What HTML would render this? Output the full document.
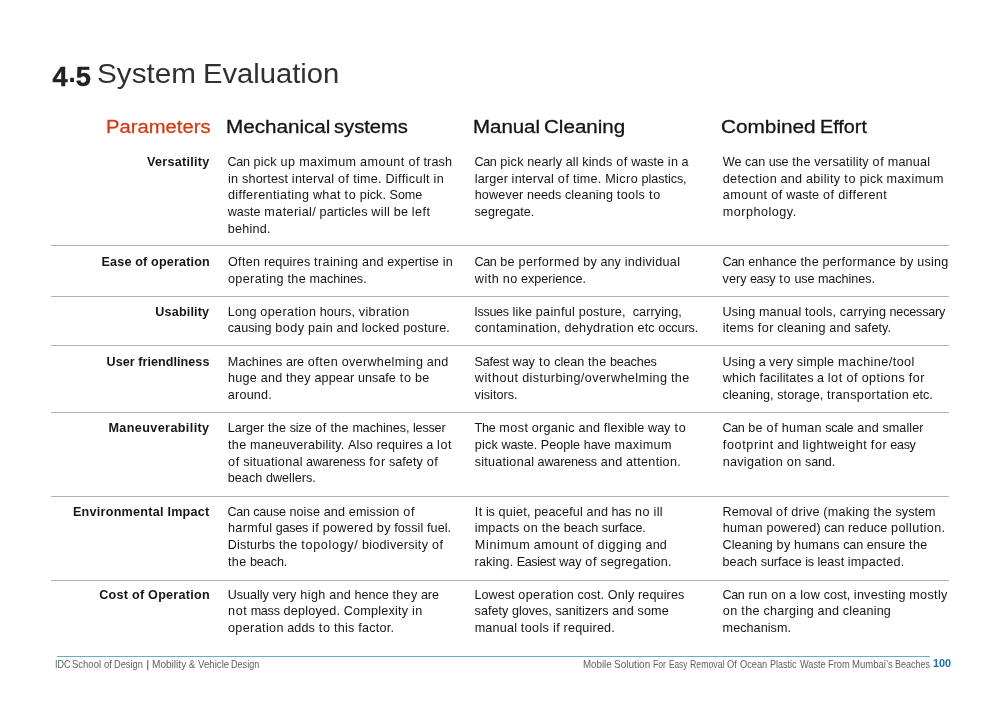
<!DOCTYPE html>
<html><head><meta charset="utf-8"><title>4.5 System Evaluation</title>
<style>
html,body{margin:0;padding:0;background:#fff;}
body{width:1000px;height:707px;position:relative;overflow:hidden;font-family:"Liberation Sans",sans-serif;color:#222;}
#pg{position:absolute;left:0;top:0;width:1000px;height:707px;background:#fff;will-change:transform;}
.t{position:absolute;white-space:pre;line-height:1;transform-origin:0 0;}
.b{color:#151515;font-size:12.60px;}
.l{font-weight:bold;color:#161616;font-size:12.60px;}
.h{color:#141414;font-size:18.70px;-webkit-text-stroke:0.3px currentColor;}
.tt{color:#222;}
.hr{position:absolute;left:50.8px;width:898.7px;height:1.15px;background:#b0b0b0;}
.f{color:#606060;font-size:10.30px;}
</style></head><body><div id="pg">

<div class="hr" style="top:245.00px"></div>
<div class="hr" style="top:296.00px"></div>
<div class="hr" style="top:345.30px"></div>
<div class="hr" style="top:412.00px"></div>
<div class="hr" style="top:496.25px"></div>
<div class="hr" style="top:580.00px"></div>
<div class="t l" style="left:147.01px;top:156.03px;letter-spacing:0.263px;">Versatility</div>
<div class="t b" style="left:227.58px;top:156.03px;letter-spacing:-0.337px;">Can</div>
<div class="t b" style="left:253.54px;top:156.03px;letter-spacing:0.235px;">pick</div>
<div class="t b" style="left:280.60px;top:156.03px;letter-spacing:0.518px;">up</div>
<div class="t b" style="left:299.16px;top:156.03px;letter-spacing:0.379px;">maximum</div>
<div class="t b" style="left:360.01px;top:156.03px;letter-spacing:0.468px;">amount</div>
<div class="t b" style="left:408.48px;top:156.03px;letter-spacing:0.608px;">of</div>
<div class="t b" style="left:423.53px;top:156.03px;letter-spacing:0.104px;">trash</div>
<div class="t b" style="left:227.93px;top:172.68px;letter-spacing:0.363px;">in</div>
<div class="t b" style="left:241.96px;top:172.68px;letter-spacing:0.187px;">shortest</div>
<div class="t b" style="left:291.86px;top:172.68px;letter-spacing:0.221px;">interval</div>
<div class="t b" style="left:338.01px;top:172.68px;letter-spacing:0.608px;">of</div>
<div class="t b" style="left:353.14px;top:172.68px;letter-spacing:0.259px;">time.</div>
<div class="t b" style="left:385.38px;top:172.68px;letter-spacing:0.396px;">Difficult</div>
<div class="t b" style="left:433.56px;top:172.68px;letter-spacing:0.363px;">in</div>
<div class="t b" style="left:227.95px;top:189.32px;letter-spacing:0.403px;">differentiating</div>
<div class="t b" style="left:312.91px;top:189.32px;letter-spacing:0.311px;">what</div>
<div class="t b" style="left:344.57px;top:189.32px;letter-spacing:0.777px;">to</div>
<div class="t b" style="left:359.85px;top:189.32px;letter-spacing:0.054px;">pick.</div>
<div class="t b" style="left:389.56px;top:189.32px;letter-spacing:-0.038px;">Some</div>
<div class="t b" style="left:227.74px;top:205.97px;letter-spacing:-0.014px;">waste</div>
<div class="t b" style="left:264.36px;top:205.97px;letter-spacing:0.392px;">material/</div>
<div class="t b" style="left:319.62px;top:205.97px;letter-spacing:0.120px;">particles</div>
<div class="t b" style="left:371.30px;top:205.97px;letter-spacing:0.348px;">will</div>
<div class="t b" style="left:393.71px;top:205.97px;letter-spacing:0.240px;">be</div>
<div class="t b" style="left:411.87px;top:205.97px;letter-spacing:0.420px;">left</div>
<div class="t b" style="left:227.86px;top:222.61px;letter-spacing:0.227px;">behind.</div>
<div class="t b" style="left:474.38px;top:156.03px;letter-spacing:-0.337px;">Can</div>
<div class="t b" style="left:500.34px;top:156.03px;letter-spacing:0.235px;">pick</div>
<div class="t b" style="left:527.19px;top:156.03px;letter-spacing:0.090px;">nearly</div>
<div class="t b" style="left:565.63px;top:156.03px;letter-spacing:0.117px;">all</div>
<div class="t b" style="left:582.19px;top:156.03px;letter-spacing:0.166px;">kinds</div>
<div class="t b" style="left:616.22px;top:156.03px;letter-spacing:0.608px;">of</div>
<div class="t b" style="left:631.22px;top:156.03px;letter-spacing:-0.014px;">waste</div>
<div class="t b" style="left:667.82px;top:156.03px;letter-spacing:0.363px;">in</div>
<div class="t b" style="left:681.56px;top:156.03px;letter-spacing:-0.376px;">a</div>
<div class="t b" style="left:474.65px;top:172.68px;letter-spacing:0.197px;">larger</div>
<div class="t b" style="left:511.62px;top:172.68px;letter-spacing:0.221px;">interval</div>
<div class="t b" style="left:557.77px;top:172.68px;letter-spacing:0.608px;">of</div>
<div class="t b" style="left:572.90px;top:172.68px;letter-spacing:0.259px;">time.</div>
<div class="t b" style="left:605.17px;top:172.68px;letter-spacing:0.460px;">Micro</div>
<div class="t b" style="left:641.58px;top:172.68px;letter-spacing:-0.057px;">plastics,</div>
<div class="t b" style="left:474.64px;top:189.32px;letter-spacing:0.182px;">however</div>
<div class="t b" style="left:527.00px;top:189.32px;letter-spacing:-0.018px;">needs</div>
<div class="t b" style="left:564.90px;top:189.32px;letter-spacing:0.165px;">cleaning</div>
<div class="t b" style="left:616.81px;top:189.32px;letter-spacing:0.361px;">tools</div>
<div class="t b" style="left:649.01px;top:189.32px;letter-spacing:0.777px;">to</div>
<div class="t b" style="left:474.56px;top:205.97px;letter-spacing:0.027px;">segregate.</div>
<div class="t b" style="left:722.64px;top:156.03px;letter-spacing:0.171px;">We</div>
<div class="t b" style="left:745.09px;top:156.03px;letter-spacing:-0.089px;">can</div>
<div class="t b" style="left:768.66px;top:156.03px;letter-spacing:-0.191px;">use</div>
<div class="t b" style="left:792.26px;top:156.03px;letter-spacing:0.370px;">the</div>
<div class="t b" style="left:814.36px;top:156.03px;letter-spacing:0.177px;">versatility</div>
<div class="t b" style="left:872.58px;top:156.03px;letter-spacing:0.608px;">of</div>
<div class="t b" style="left:887.69px;top:156.03px;letter-spacing:0.207px;">manual</div>
<div class="t b" style="left:722.73px;top:172.68px;letter-spacing:0.362px;">detection</div>
<div class="t b" style="left:780.62px;top:172.68px;letter-spacing:0.225px;">and</div>
<div class="t b" style="left:805.94px;top:172.68px;letter-spacing:0.332px;">ability</div>
<div class="t b" style="left:844.26px;top:172.68px;letter-spacing:0.777px;">to</div>
<div class="t b" style="left:859.63px;top:172.68px;letter-spacing:0.235px;">pick</div>
<div class="t b" style="left:886.62px;top:172.68px;letter-spacing:0.379px;">maximum</div>
<div class="t b" style="left:722.78px;top:189.32px;letter-spacing:0.468px;">amount</div>
<div class="t b" style="left:771.25px;top:189.32px;letter-spacing:0.608px;">of</div>
<div class="t b" style="left:786.24px;top:189.32px;letter-spacing:-0.014px;">waste</div>
<div class="t b" style="left:822.97px;top:189.32px;letter-spacing:0.608px;">of</div>
<div class="t b" style="left:838.17px;top:189.32px;letter-spacing:0.413px;">different</div>
<div class="t b" style="left:722.80px;top:205.97px;letter-spacing:0.499px;">morphology.</div>
<div class="t l" style="left:101.56px;top:255.90px;letter-spacing:0.153px;">Ease of operation</div>
<div class="t b" style="left:227.92px;top:255.90px;letter-spacing:0.347px;">Often</div>
<div class="t b" style="left:263.93px;top:255.90px;letter-spacing:0.123px;">requires</div>
<div class="t b" style="left:314.12px;top:255.90px;letter-spacing:0.380px;">training</div>
<div class="t b" style="left:361.98px;top:255.90px;letter-spacing:0.225px;">and</div>
<div class="t b" style="left:387.17px;top:255.90px;letter-spacing:0.077px;">expertise</div>
<div class="t b" style="left:442.68px;top:255.90px;letter-spacing:0.363px;">in</div>
<div class="t b" style="left:227.94px;top:272.55px;letter-spacing:0.383px;">operating</div>
<div class="t b" style="left:287.47px;top:272.55px;letter-spacing:0.370px;">the</div>
<div class="t b" style="left:309.47px;top:272.55px;letter-spacing:-0.030px;">machines.</div>
<div class="t b" style="left:474.38px;top:255.90px;letter-spacing:-0.337px;">Can</div>
<div class="t b" style="left:500.34px;top:255.90px;letter-spacing:0.240px;">be</div>
<div class="t b" style="left:518.50px;top:255.90px;letter-spacing:0.418px;">performed</div>
<div class="t b" style="left:583.20px;top:255.90px;letter-spacing:0.334px;">by</div>
<div class="t b" style="left:600.59px;top:255.90px;letter-spacing:0.005px;">any</div>
<div class="t b" style="left:624.65px;top:255.90px;letter-spacing:0.312px;">individual</div>
<div class="t b" style="left:474.80px;top:272.55px;letter-spacing:0.492px;">with</div>
<div class="t b" style="left:502.75px;top:272.55px;letter-spacing:0.505px;">no</div>
<div class="t b" style="left:521.09px;top:272.55px;letter-spacing:-0.019px;">experience.</div>
<div class="t b" style="left:722.38px;top:255.90px;letter-spacing:-0.337px;">Can</div>
<div class="t b" style="left:748.23px;top:255.90px;letter-spacing:0.018px;">enhance</div>
<div class="t b" style="left:800.44px;top:255.90px;letter-spacing:0.370px;">the</div>
<div class="t b" style="left:822.58px;top:255.90px;letter-spacing:0.258px;">performance</div>
<div class="t b" style="left:899.73px;top:255.90px;letter-spacing:0.334px;">by</div>
<div class="t b" style="left:917.22px;top:255.90px;letter-spacing:0.204px;">using</div>
<div class="t b" style="left:722.57px;top:272.55px;letter-spacing:0.033px;">very</div>
<div class="t b" style="left:749.89px;top:272.55px;letter-spacing:-0.325px;">easy</div>
<div class="t b" style="left:779.32px;top:272.55px;letter-spacing:0.777px;">to</div>
<div class="t b" style="left:794.48px;top:272.55px;letter-spacing:-0.191px;">use</div>
<div class="t b" style="left:817.88px;top:272.55px;letter-spacing:-0.030px;">machines.</div>
<div class="t l" style="left:155.35px;top:305.84px;letter-spacing:0.161px;">Usability</div>
<div class="t b" style="left:227.85px;top:305.84px;letter-spacing:0.202px;">Long</div>
<div class="t b" style="left:260.35px;top:305.84px;letter-spacing:0.380px;">operation</div>
<div class="t b" style="left:319.70px;top:305.84px;letter-spacing:0.050px;">hours,</div>
<div class="t b" style="left:358.74px;top:305.84px;letter-spacing:0.363px;">vibration</div>
<div class="t b" style="left:227.78px;top:322.48px;letter-spacing:0.053px;">causing</div>
<div class="t b" style="left:275.37px;top:322.48px;letter-spacing:0.497px;">body</div>
<div class="t b" style="left:308.12px;top:322.48px;letter-spacing:0.260px;">pain</div>
<div class="t b" style="left:336.53px;top:322.48px;letter-spacing:0.225px;">and</div>
<div class="t b" style="left:361.80px;top:322.48px;letter-spacing:0.235px;">locked</div>
<div class="t b" style="left:403.16px;top:322.48px;letter-spacing:0.167px;">posture.</div>
<div class="t b" style="left:474.37px;top:305.84px;letter-spacing:-0.353px;">Issues</div>
<div class="t b" style="left:512.50px;top:305.84px;letter-spacing:0.182px;">like</div>
<div class="t b" style="left:535.79px;top:305.84px;letter-spacing:0.336px;">painful</div>
<div class="t b" style="left:578.75px;top:305.84px;letter-spacing:0.167px;">posture,</div>
<div class="t b" style="left:632.72px;top:305.84px;letter-spacing:0.090px;">carrying,</div>
<div class="t b" style="left:474.70px;top:322.48px;letter-spacing:0.297px;">contamination,</div>
<div class="t b" style="left:564.38px;top:322.48px;letter-spacing:0.347px;">dehydration</div>
<div class="t b" style="left:637.51px;top:322.48px;letter-spacing:0.154px;">etc</div>
<div class="t b" style="left:658.24px;top:322.48px;letter-spacing:-0.086px;">occurs.</div>
<div class="t b" style="left:722.60px;top:305.84px;letter-spacing:0.100px;">Using</div>
<div class="t b" style="left:758.93px;top:305.84px;letter-spacing:0.207px;">manual</div>
<div class="t b" style="left:805.05px;top:305.84px;letter-spacing:0.189px;">tools,</div>
<div class="t b" style="left:839.86px;top:305.84px;letter-spacing:0.185px;">carrying</div>
<div class="t b" style="left:889.52px;top:305.84px;letter-spacing:-0.198px;">necessary</div>
<div class="t b" style="left:722.67px;top:322.48px;letter-spacing:0.241px;">items</div>
<div class="t b" style="left:757.69px;top:322.48px;letter-spacing:0.524px;">for</div>
<div class="t b" style="left:777.36px;top:322.48px;letter-spacing:0.165px;">cleaning</div>
<div class="t b" style="left:829.20px;top:322.48px;letter-spacing:0.225px;">and</div>
<div class="t b" style="left:854.39px;top:322.48px;letter-spacing:0.068px;">safety.</div>
<div class="t l" style="left:106.55px;top:355.77px;letter-spacing:0.043px;">User friendliness</div>
<div class="t b" style="left:227.80px;top:355.77px;letter-spacing:0.095px;">Machines</div>
<div class="t b" style="left:285.96px;top:355.77px;letter-spacing:-0.065px;">are</div>
<div class="t b" style="left:307.81px;top:355.77px;letter-spacing:0.468px;">often</div>
<div class="t b" style="left:341.67px;top:355.77px;letter-spacing:0.325px;">overwhelming</div>
<div class="t b" style="left:426.80px;top:355.77px;letter-spacing:0.225px;">and</div>
<div class="t b" style="left:227.90px;top:372.42px;letter-spacing:0.306px;">huge</div>
<div class="t b" style="left:260.69px;top:372.42px;letter-spacing:0.225px;">and</div>
<div class="t b" style="left:285.98px;top:372.42px;letter-spacing:0.280px;">they</div>
<div class="t b" style="left:314.42px;top:372.42px;letter-spacing:0.129px;">appear</div>
<div class="t b" style="left:357.92px;top:372.42px;letter-spacing:0.005px;">unsafe</div>
<div class="t b" style="left:399.73px;top:372.42px;letter-spacing:0.777px;">to</div>
<div class="t b" style="left:415.10px;top:372.42px;letter-spacing:0.240px;">be</div>
<div class="t b" style="left:227.85px;top:389.06px;letter-spacing:0.196px;">around.</div>
<div class="t b" style="left:474.44px;top:355.77px;letter-spacing:-0.211px;">Safest</div>
<div class="t b" style="left:512.55px;top:355.77px;letter-spacing:-0.016px;">way</div>
<div class="t b" style="left:538.88px;top:355.77px;letter-spacing:0.777px;">to</div>
<div class="t b" style="left:554.13px;top:355.77px;letter-spacing:-0.016px;">clean</div>
<div class="t b" style="left:587.93px;top:355.77px;letter-spacing:0.370px;">the</div>
<div class="t b" style="left:609.89px;top:355.77px;letter-spacing:-0.103px;">beaches</div>
<div class="t b" style="left:474.83px;top:372.42px;letter-spacing:0.559px;">without</div>
<div class="t b" style="left:522.15px;top:372.42px;letter-spacing:0.412px;">disturbing/overwhelming</div>
<div class="t b" style="left:670.99px;top:372.42px;letter-spacing:0.370px;">the</div>
<div class="t b" style="left:474.57px;top:389.06px;letter-spacing:0.044px;">visitors.</div>
<div class="t b" style="left:722.60px;top:355.77px;letter-spacing:0.100px;">Using</div>
<div class="t b" style="left:758.64px;top:355.77px;letter-spacing:-0.376px;">a</div>
<div class="t b" style="left:769.06px;top:355.77px;letter-spacing:0.033px;">very</div>
<div class="t b" style="left:796.65px;top:355.77px;letter-spacing:0.217px;">simple</div>
<div class="t b" style="left:838.05px;top:355.77px;letter-spacing:0.443px;">machine/tool</div>
<div class="t b" style="left:722.67px;top:372.42px;letter-spacing:0.231px;">which</div>
<div class="t b" style="left:759.55px;top:372.42px;letter-spacing:0.144px;">facilitates</div>
<div class="t b" style="left:816.95px;top:372.42px;letter-spacing:-0.376px;">a</div>
<div class="t b" style="left:827.67px;top:372.42px;letter-spacing:0.639px;">lot</div>
<div class="t b" style="left:846.46px;top:372.42px;letter-spacing:0.608px;">of</div>
<div class="t b" style="left:861.66px;top:372.42px;letter-spacing:0.406px;">options</div>
<div class="t b" style="left:908.76px;top:372.42px;letter-spacing:0.524px;">for</div>
<div class="t b" style="left:722.59px;top:389.06px;letter-spacing:0.072px;">cleaning,</div>
<div class="t b" style="left:777.23px;top:389.06px;letter-spacing:0.075px;">storage,</div>
<div class="t b" style="left:827.07px;top:389.06px;letter-spacing:0.360px;">transportation</div>
<div class="t b" style="left:912.49px;top:389.06px;letter-spacing:-0.052px;">etc.</div>
<div class="t l" style="left:108.46px;top:422.35px;letter-spacing:0.392px;">Maneuverability</div>
<div class="t b" style="left:227.75px;top:422.35px;letter-spacing:-0.007px;">Larger</div>
<div class="t b" style="left:267.88px;top:422.35px;letter-spacing:0.370px;">the</div>
<div class="t b" style="left:289.77px;top:422.35px;letter-spacing:-0.244px;">size</div>
<div class="t b" style="left:315.20px;top:422.35px;letter-spacing:0.608px;">of</div>
<div class="t b" style="left:330.39px;top:422.35px;letter-spacing:0.370px;">the</div>
<div class="t b" style="left:352.39px;top:422.35px;letter-spacing:-0.030px;">machines,</div>
<div class="t b" style="left:413.01px;top:422.35px;letter-spacing:-0.194px;">lesser</div>
<div class="t b" style="left:227.93px;top:439.00px;letter-spacing:0.370px;">the</div>
<div class="t b" style="left:250.07px;top:439.00px;letter-spacing:0.236px;">maneuverability.</div>
<div class="t b" style="left:348.11px;top:439.00px;letter-spacing:0.065px;">Also</div>
<div class="t b" style="left:376.47px;top:439.00px;letter-spacing:0.123px;">requires</div>
<div class="t b" style="left:426.28px;top:439.00px;letter-spacing:-0.376px;">a</div>
<div class="t b" style="left:437.00px;top:439.00px;letter-spacing:0.639px;">lot</div>
<div class="t b" style="left:228.05px;top:455.64px;letter-spacing:0.608px;">of</div>
<div class="t b" style="left:243.18px;top:455.64px;letter-spacing:0.257px;">situational</div>
<div class="t b" style="left:306.09px;top:455.64px;letter-spacing:-0.174px;">awareness</div>
<div class="t b" style="left:369.35px;top:455.64px;letter-spacing:0.524px;">for</div>
<div class="t b" style="left:388.96px;top:455.64px;letter-spacing:0.035px;">safety</div>
<div class="t b" style="left:426.63px;top:455.64px;letter-spacing:0.608px;">of</div>
<div class="t b" style="left:227.77px;top:472.29px;letter-spacing:0.043px;">beach</div>
<div class="t b" style="left:265.88px;top:472.29px;letter-spacing:0.029px;">dwellers.</div>
<div class="t b" style="left:474.44px;top:422.35px;letter-spacing:-0.221px;">The</div>
<div class="t b" style="left:499.37px;top:422.35px;letter-spacing:0.416px;">most</div>
<div class="t b" style="left:531.83px;top:422.35px;letter-spacing:0.251px;">organic</div>
<div class="t b" style="left:578.46px;top:422.35px;letter-spacing:0.225px;">and</div>
<div class="t b" style="left:603.71px;top:422.35px;letter-spacing:0.209px;">flexible</div>
<div class="t b" style="left:648.05px;top:422.35px;letter-spacing:-0.016px;">way</div>
<div class="t b" style="left:674.38px;top:422.35px;letter-spacing:0.777px;">to</div>
<div class="t b" style="left:474.67px;top:439.00px;letter-spacing:0.235px;">pick</div>
<div class="t b" style="left:501.41px;top:439.00px;letter-spacing:-0.124px;">waste.</div>
<div class="t b" style="left:540.73px;top:439.00px;letter-spacing:0.036px;">People</div>
<div class="t b" style="left:583.70px;top:439.00px;letter-spacing:-0.055px;">have</div>
<div class="t b" style="left:614.58px;top:439.00px;letter-spacing:0.379px;">maximum</div>
<div class="t b" style="left:474.68px;top:455.64px;letter-spacing:0.257px;">situational</div>
<div class="t b" style="left:537.58px;top:455.64px;letter-spacing:-0.174px;">awareness</div>
<div class="t b" style="left:600.70px;top:455.64px;letter-spacing:0.225px;">and</div>
<div class="t b" style="left:626.01px;top:455.64px;letter-spacing:0.330px;">attention.</div>
<div class="t b" style="left:722.38px;top:422.35px;letter-spacing:-0.337px;">Can</div>
<div class="t b" style="left:748.34px;top:422.35px;letter-spacing:0.240px;">be</div>
<div class="t b" style="left:766.60px;top:422.35px;letter-spacing:0.608px;">of</div>
<div class="t b" style="left:781.76px;top:422.35px;letter-spacing:0.323px;">human</div>
<div class="t b" style="left:825.18px;top:422.35px;letter-spacing:-0.243px;">scale</div>
<div class="t b" style="left:857.18px;top:422.35px;letter-spacing:0.225px;">and</div>
<div class="t b" style="left:882.38px;top:422.35px;letter-spacing:0.090px;">smaller</div>
<div class="t b" style="left:722.85px;top:439.00px;letter-spacing:0.607px;">footprint</div>
<div class="t b" style="left:777.21px;top:439.00px;letter-spacing:0.225px;">and</div>
<div class="t b" style="left:802.60px;top:439.00px;letter-spacing:0.468px;">lightweight</div>
<div class="t b" style="left:870.87px;top:439.00px;letter-spacing:0.524px;">for</div>
<div class="t b" style="left:890.29px;top:439.00px;letter-spacing:-0.325px;">easy</div>
<div class="t b" style="left:722.70px;top:455.64px;letter-spacing:0.293px;">navigation</div>
<div class="t b" style="left:786.73px;top:455.64px;letter-spacing:0.505px;">on</div>
<div class="t b" style="left:805.00px;top:455.64px;letter-spacing:-0.151px;">sand.</div>
<div class="t l" style="left:72.96px;top:505.58px;letter-spacing:0.248px;">Environmental Impact</div>
<div class="t b" style="left:227.58px;top:505.58px;letter-spacing:-0.337px;">Can</div>
<div class="t b" style="left:253.30px;top:505.58px;letter-spacing:-0.240px;">cause</div>
<div class="t b" style="left:289.45px;top:505.58px;letter-spacing:0.088px;">noise</div>
<div class="t b" style="left:323.64px;top:505.58px;letter-spacing:0.225px;">and</div>
<div class="t b" style="left:348.85px;top:505.58px;letter-spacing:0.112px;">emission</div>
<div class="t b" style="left:403.27px;top:505.58px;letter-spacing:0.608px;">of</div>
<div class="t b" style="left:227.93px;top:522.22px;letter-spacing:0.363px;">harmful</div>
<div class="t b" style="left:275.73px;top:522.22px;letter-spacing:-0.280px;">gases</div>
<div class="t b" style="left:311.89px;top:522.22px;letter-spacing:0.474px;">if</div>
<div class="t b" style="left:322.63px;top:522.22px;letter-spacing:0.326px;">powered</div>
<div class="t b" style="left:376.81px;top:522.22px;letter-spacing:0.334px;">by</div>
<div class="t b" style="left:394.23px;top:522.22px;letter-spacing:0.071px;">fossil</div>
<div class="t b" style="left:426.94px;top:522.22px;letter-spacing:0.093px;">fuel.</div>
<div class="t b" style="left:227.83px;top:538.87px;letter-spacing:0.152px;">Disturbs</div>
<div class="t b" style="left:278.91px;top:538.87px;letter-spacing:0.370px;">the</div>
<div class="t b" style="left:301.27px;top:538.87px;letter-spacing:0.681px;">topology/</div>
<div class="t b" style="left:361.89px;top:538.87px;letter-spacing:0.280px;">biodiversity</div>
<div class="t b" style="left:431.99px;top:538.87px;letter-spacing:0.608px;">of</div>
<div class="t b" style="left:227.93px;top:555.51px;letter-spacing:0.370px;">the</div>
<div class="t b" style="left:249.91px;top:555.51px;letter-spacing:-0.073px;">beach.</div>
<div class="t b" style="left:474.77px;top:505.58px;letter-spacing:0.447px;">It</div>
<div class="t b" style="left:485.92px;top:505.58px;letter-spacing:-0.206px;">is</div>
<div class="t b" style="left:498.42px;top:505.58px;letter-spacing:0.246px;">quiet,</div>
<div class="t b" style="left:534.22px;top:505.58px;letter-spacing:0.123px;">peaceful</div>
<div class="t b" style="left:586.45px;top:505.58px;letter-spacing:0.225px;">and</div>
<div class="t b" style="left:611.48px;top:505.58px;letter-spacing:-0.252px;">has</div>
<div class="t b" style="left:634.99px;top:505.58px;letter-spacing:0.505px;">no</div>
<div class="t b" style="left:653.52px;top:505.58px;letter-spacing:0.358px;">ill</div>
<div class="t b" style="left:474.65px;top:522.22px;letter-spacing:0.203px;">impacts</div>
<div class="t b" style="left:523.19px;top:522.22px;letter-spacing:0.505px;">on</div>
<div class="t b" style="left:541.72px;top:522.22px;letter-spacing:0.370px;">the</div>
<div class="t b" style="left:563.76px;top:522.22px;letter-spacing:0.043px;">beach</div>
<div class="t b" style="left:601.80px;top:522.22px;letter-spacing:-0.118px;">surface.</div>
<div class="t b" style="left:474.87px;top:538.87px;letter-spacing:0.633px;">Minimum</div>
<div class="t b" style="left:533.87px;top:538.87px;letter-spacing:0.468px;">amount</div>
<div class="t b" style="left:582.33px;top:538.87px;letter-spacing:0.608px;">of</div>
<div class="t b" style="left:597.60px;top:538.87px;letter-spacing:0.538px;">digging</div>
<div class="t b" style="left:645.41px;top:538.87px;letter-spacing:0.225px;">and</div>
<div class="t b" style="left:474.61px;top:555.51px;letter-spacing:0.128px;">raking.</div>
<div class="t b" style="left:516.65px;top:555.51px;letter-spacing:-0.370px;">Easiest</div>
<div class="t b" style="left:559.13px;top:555.51px;letter-spacing:-0.016px;">way</div>
<div class="t b" style="left:585.37px;top:555.51px;letter-spacing:0.608px;">of</div>
<div class="t b" style="left:600.45px;top:555.51px;letter-spacing:0.152px;">segregation.</div>
<div class="t b" style="left:722.55px;top:505.58px;letter-spacing:-0.002px;">Removal</div>
<div class="t b" style="left:776.12px;top:505.58px;letter-spacing:0.608px;">of</div>
<div class="t b" style="left:791.24px;top:505.58px;letter-spacing:0.231px;">drive</div>
<div class="t b" style="left:823.28px;top:505.58px;letter-spacing:0.262px;">(making</div>
<div class="t b" style="left:873.54px;top:505.58px;letter-spacing:0.370px;">the</div>
<div class="t b" style="left:895.56px;top:505.58px;letter-spacing:0.016px;">system</div>
<div class="t b" style="left:722.71px;top:522.22px;letter-spacing:0.323px;">human</div>
<div class="t b" style="left:766.38px;top:522.22px;letter-spacing:0.252px;">powered)</div>
<div class="t b" style="left:824.32px;top:522.22px;letter-spacing:-0.089px;">can</div>
<div class="t b" style="left:848.05px;top:522.22px;letter-spacing:0.126px;">reduce</div>
<div class="t b" style="left:891.03px;top:522.22px;letter-spacing:0.403px;">pollution.</div>
<div class="t b" style="left:722.59px;top:538.87px;letter-spacing:0.072px;">Cleaning</div>
<div class="t b" style="left:776.59px;top:538.87px;letter-spacing:0.334px;">by</div>
<div class="t b" style="left:794.05px;top:538.87px;letter-spacing:0.143px;">humans</div>
<div class="t b" style="left:843.17px;top:538.87px;letter-spacing:-0.089px;">can</div>
<div class="t b" style="left:866.84px;top:538.87px;letter-spacing:-0.005px;">ensure</div>
<div class="t b" style="left:909.09px;top:538.87px;letter-spacing:0.370px;">the</div>
<div class="t b" style="left:722.57px;top:555.51px;letter-spacing:0.043px;">beach</div>
<div class="t b" style="left:760.65px;top:555.51px;letter-spacing:-0.039px;">surface</div>
<div class="t b" style="left:805.18px;top:555.51px;letter-spacing:-0.206px;">is</div>
<div class="t b" style="left:817.55px;top:555.51px;letter-spacing:-0.005px;">least</div>
<div class="t b" style="left:847.82px;top:555.51px;letter-spacing:0.222px;">impacted.</div>
<div class="t l" style="left:99.24px;top:588.80px;letter-spacing:0.251px;">Cost of Operation</div>
<div class="t b" style="left:227.74px;top:588.80px;letter-spacing:-0.023px;">Usually</div>
<div class="t b" style="left:272.48px;top:588.80px;letter-spacing:0.033px;">very</div>
<div class="t b" style="left:300.19px;top:588.80px;letter-spacing:0.444px;">high</div>
<div class="t b" style="left:329.24px;top:588.80px;letter-spacing:0.225px;">and</div>
<div class="t b" style="left:354.41px;top:588.80px;letter-spacing:0.021px;">hence</div>
<div class="t b" style="left:392.54px;top:588.80px;letter-spacing:0.280px;">they</div>
<div class="t b" style="left:420.88px;top:588.80px;letter-spacing:-0.065px;">are</div>
<div class="t b" style="left:228.07px;top:605.45px;letter-spacing:0.644px;">not</div>
<div class="t b" style="left:250.64px;top:605.45px;letter-spacing:-0.256px;">mass</div>
<div class="t b" style="left:283.53px;top:605.45px;letter-spacing:0.220px;">deployed.</div>
<div class="t b" style="left:343.72px;top:605.45px;letter-spacing:0.232px;">Complexity</div>
<div class="t b" style="left:411.98px;top:605.45px;letter-spacing:0.363px;">in</div>
<div class="t b" style="left:227.94px;top:622.09px;letter-spacing:0.380px;">operation</div>
<div class="t b" style="left:287.28px;top:622.09px;letter-spacing:0.052px;">adds</div>
<div class="t b" style="left:318.74px;top:622.09px;letter-spacing:0.777px;">to</div>
<div class="t b" style="left:334.11px;top:622.09px;letter-spacing:0.222px;">this</div>
<div class="t b" style="left:358.21px;top:622.09px;letter-spacing:0.269px;">factor.</div>
<div class="t b" style="left:474.56px;top:588.80px;letter-spacing:0.013px;">Lowest</div>
<div class="t b" style="left:518.30px;top:588.80px;letter-spacing:0.380px;">operation</div>
<div class="t b" style="left:577.60px;top:588.80px;letter-spacing:-0.029px;">cost.</div>
<div class="t b" style="left:607.75px;top:588.80px;letter-spacing:0.195px;">Only</div>
<div class="t b" style="left:637.98px;top:588.80px;letter-spacing:0.123px;">requires</div>
<div class="t b" style="left:474.57px;top:605.45px;letter-spacing:0.035px;">safety</div>
<div class="t b" style="left:511.94px;top:605.45px;letter-spacing:0.002px;">gloves,</div>
<div class="t b" style="left:555.43px;top:605.45px;letter-spacing:-0.009px;">sanitizers</div>
<div class="t b" style="left:612.24px;top:605.45px;letter-spacing:0.225px;">and</div>
<div class="t b" style="left:637.46px;top:605.45px;letter-spacing:0.142px;">some</div>
<div class="t b" style="left:474.65px;top:622.09px;letter-spacing:0.207px;">manual</div>
<div class="t b" style="left:520.86px;top:622.09px;letter-spacing:0.361px;">tools</div>
<div class="t b" style="left:552.90px;top:622.09px;letter-spacing:0.474px;">if</div>
<div class="t b" style="left:563.58px;top:622.09px;letter-spacing:0.192px;">required.</div>
<div class="t b" style="left:722.38px;top:588.80px;letter-spacing:-0.337px;">Can</div>
<div class="t b" style="left:748.41px;top:588.80px;letter-spacing:0.366px;">run</div>
<div class="t b" style="left:771.35px;top:588.80px;letter-spacing:0.505px;">on</div>
<div class="t b" style="left:789.51px;top:588.80px;letter-spacing:-0.376px;">a</div>
<div class="t b" style="left:800.13px;top:588.80px;letter-spacing:0.437px;">low</div>
<div class="t b" style="left:823.69px;top:588.80px;letter-spacing:-0.029px;">cost,</div>
<div class="t b" style="left:853.86px;top:588.80px;letter-spacing:0.230px;">investing</div>
<div class="t b" style="left:909.28px;top:588.80px;letter-spacing:0.340px;">mostly</div>
<div class="t b" style="left:722.80px;top:605.45px;letter-spacing:0.505px;">on</div>
<div class="t b" style="left:741.34px;top:605.45px;letter-spacing:0.370px;">the</div>
<div class="t b" style="left:763.49px;top:605.45px;letter-spacing:0.270px;">charging</div>
<div class="t b" style="left:817.51px;top:605.45px;letter-spacing:0.225px;">and</div>
<div class="t b" style="left:842.75px;top:605.45px;letter-spacing:0.165px;">cleaning</div>
<div class="t b" style="left:722.58px;top:622.09px;letter-spacing:0.060px;">mechanism.</div>
<div class="t h" style="left:105.95px;top:117.87px;transform:scaleX(1.0820);color:#d23c14;">Parameters</div>
<div class="t h" style="left:226.42px;top:117.87px;transform:scaleX(1.1046);">Mechanical</div>
<div class="t h" style="left:334.38px;top:117.87px;transform:scaleX(1.0787);">systems</div>
<div class="t h" style="left:472.94px;top:117.87px;transform:scaleX(1.0936);">Manual</div>
<div class="t h" style="left:543.72px;top:117.87px;transform:scaleX(1.1014);">Cleaning</div>
<div class="t h" style="left:721.12px;top:117.87px;transform:scaleX(1.1114);">Combined</div>
<div class="t h" style="left:819.58px;top:117.87px;transform:scaleX(1.0588);">Effort</div>
<div class="t tt" style="left:52.38px;top:63.08px;font-size:27.20px;font-weight:bold;-webkit-text-stroke:0.45px currentColor;">4</div>
<div class="t tt" style="left:68.35px;top:59.38px;font-size:27.20px;font-weight:bold;">.</div>
<div class="t tt" style="left:75.75px;top:63.08px;font-size:27.20px;font-weight:bold;-webkit-text-stroke:0.45px currentColor;">5</div>
<div class="t tt" style="left:97.06px;top:59.75px;font-size:27.70px;transform:scaleX(1.0736);color:#303030;">System</div>
<div class="t tt" style="left:203.19px;top:59.75px;font-size:27.70px;transform:scaleX(1.0543);color:#303030;">Evaluation</div>
<div class="t f" style="left:55.33px;top:659.78px;transform:scaleX(0.8750);">IDC</div>
<div class="t f" style="left:72.01px;top:659.78px;transform:scaleX(0.9222);">School</div>
<div class="t f" style="left:103.66px;top:659.78px;transform:scaleX(0.9288);">of</div>
<div class="t f" style="left:114.15px;top:659.78px;transform:scaleX(0.8979);">Design</div>
<div class="t f" style="left:146.00px;top:659.78px;transform:scaleX(1.3000);">|</div>
<div class="t f" style="left:151.87px;top:659.78px;transform:scaleX(0.9796);">Mobility</div>
<div class="t f" style="left:189.36px;top:659.78px;transform:scaleX(0.9004);">&amp;</div>
<div class="t f" style="left:197.77px;top:659.78px;transform:scaleX(0.9398);">Vehicle</div>
<div class="t f" style="left:231.27px;top:659.78px;transform:scaleX(0.8816);">Design</div>
<div class="t f" style="left:583.00px;top:659.78px;transform:scaleX(0.9461);">Mobile</div>
<div class="t f" style="left:613.87px;top:659.78px;transform:scaleX(0.9750);">Solution</div>
<div class="t f" style="left:652.79px;top:659.78px;transform:scaleX(0.8386);">For</div>
<div class="t f" style="left:668.93px;top:659.78px;transform:scaleX(0.8003);">Easy</div>
<div class="t f" style="left:690.29px;top:659.78px;transform:scaleX(0.8479);">Removal</div>
<div class="t f" style="left:727.49px;top:659.78px;transform:scaleX(0.9048);">Of</div>
<div class="t f" style="left:740.09px;top:659.78px;transform:scaleX(0.8981);">Ocean</div>
<div class="t f" style="left:770.26px;top:659.78px;transform:scaleX(0.8737);">Plastic</div>
<div class="t f" style="left:800.19px;top:659.78px;transform:scaleX(0.8889);">Waste</div>
<div class="t f" style="left:827.84px;top:659.78px;transform:scaleX(0.9016);">From</div>
<div class="t f" style="left:851.62px;top:659.78px;transform:scaleX(0.9268);">Mumbai’s</div>
<div class="t f" style="left:895.06px;top:659.78px;transform:scaleX(0.8737);">Beaches</div>
<div class="t f" style="left:932.71px;top:658.50px;font-size:10.40px;transform:scaleX(1.0484);font-weight:bold;color:#1a72ad;">100</div>
<div style="position:absolute;left:56.6px;width:873.6px;top:655.9px;height:1.5px;background:#6aaaca"></div>
</div></body></html>
